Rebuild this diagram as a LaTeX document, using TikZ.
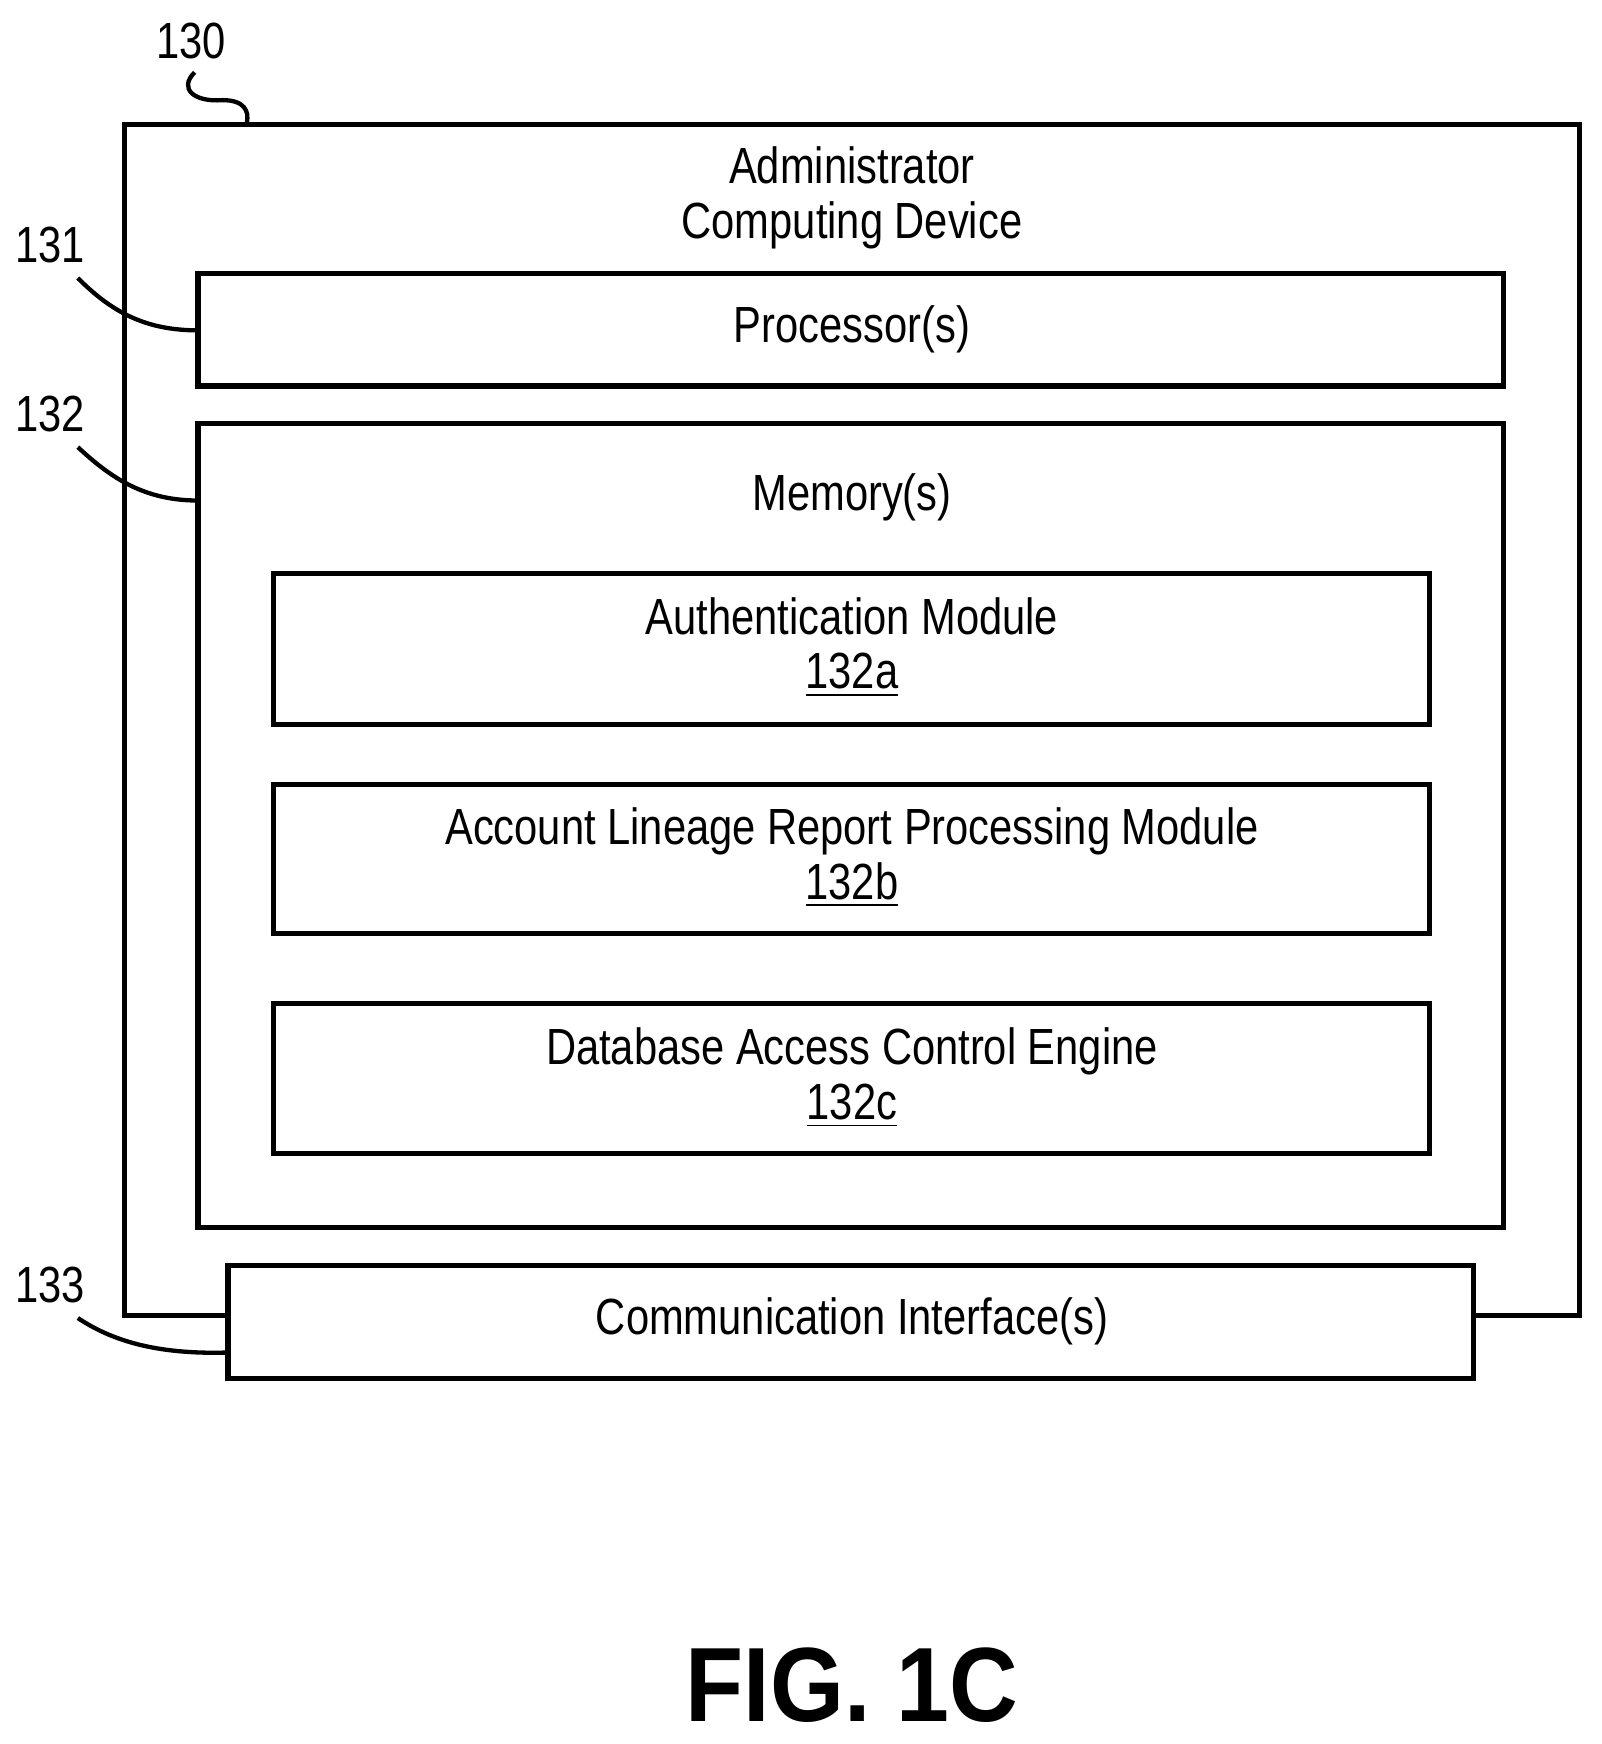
\documentclass[tikz,border=0pt]{standalone}
\usepackage{fontspec}
\setmainfont{Liberation Sans}[FakeStretch=0.82]
\newfontfamily\figfont{Liberation Sans}[FakeStretch=0.9]
\begin{document}
\begin{tikzpicture}[x=0.01cm,y=-0.01cm,
  box/.style={draw,line width=1.3pt},
  lbl/.style={font=\fontsize{13}{15}\selectfont},
  lead/.style={line width=1.1pt}]
\useasboundingbox (0,0) rectangle (1440,1568);
\draw[box,fill=white] (112,112) rectangle (1420,1183);
\node[lbl,align=center] (title) at (766,178) {Administrator\\[-1pt]Computing Device};
\draw[box] (178,246) rectangle (1352,347);
\node[lbl] (proc) at (766,296) {Processor(s)};
\draw[box] (178,381) rectangle (1352,1104);
\node[lbl] (mem) at (766,447) {Memory(s)};
\draw[box] (246,516) rectangle (1285,651);
\node[lbl,align=center] (auth) at (766,582) {Authentication Module\\[-1pt]\underline{132a}};
\draw[box] (246,705) rectangle (1285,839);
\node[lbl,align=center] (acct) at (766,771) {Account Lineage Report Processing Module\\[-1pt]\underline{132b}};
\draw[box] (246,902) rectangle (1285,1037);
\node[lbl,align=center] (db) at (766,969) {Database Access Control Engine\\[-1pt]\underline{132c}};
\draw[box,fill=white] (205,1138) rectangle (1325,1239);
\node[lbl] (comm) at (766,1188) {Communication Interface(s)};
\node[lbl] (n130) at (172,37) {130};
\node[lbl] (n131) at (45,220) {131};
\node[lbl] (n132) at (45,372) {132};
\node[lbl] (n133) at (45,1155) {133};
\draw[lead] (175,65) .. controls (160,80) and (175,92) .. (200,90) .. controls (220,90) and (224,100) .. (222,110);
\draw[lead] (70,250) .. controls (100,280) and (130,297) .. (178,297);
\draw[lead] (70,402) .. controls (100,430) and (130,450) .. (178,450);
\draw[lead] (70,1185) .. controls (100,1205) and (140,1218) .. (205,1216);
\node[font=\figfont\bfseries\fontsize{27}{30}\selectfont] (fig) at (766,1515) {FIG. 1C};
\end{tikzpicture}
\end{document}
